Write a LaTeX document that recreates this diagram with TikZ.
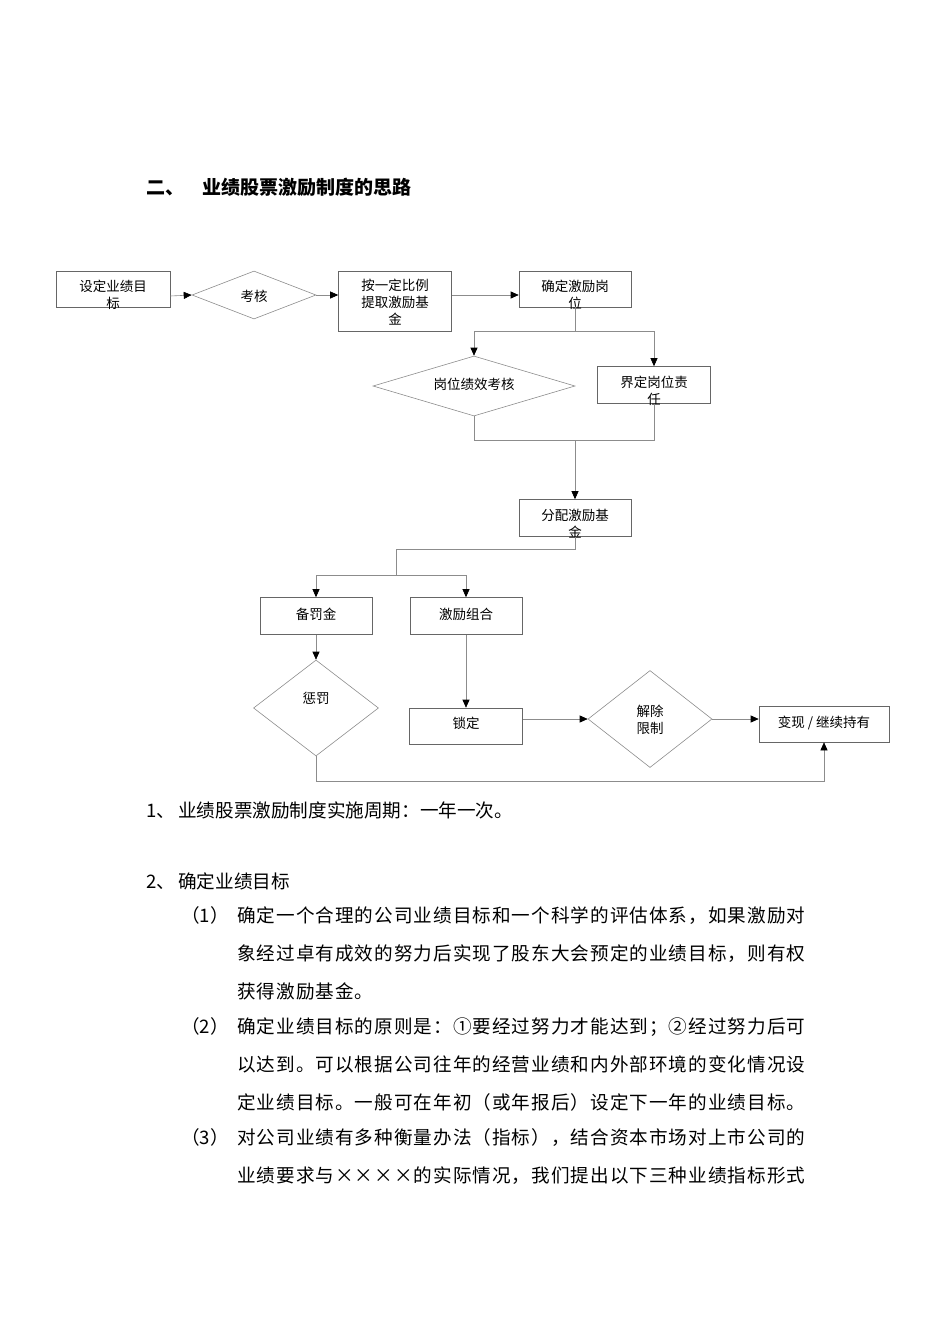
\documentclass[tikz,border=0pt]{standalone}
\usepackage{fontspec}
\setmainfont{Noto Sans CJK SC}
\newfontfamily\spreadfont[LetterSpace=5.5]{Noto Sans CJK SC}
\usetikzlibrary{shapes.geometric,arrows.meta}
\begin{document}
\begin{tikzpicture}[x=1pt,y=-1pt,
  box/.style={draw=black!60,line width=0.6pt,minimum width=#1,inner sep=0pt},
  dia/.style={draw=black!45,line width=0.6pt,diamond,aspect=#1,inner sep=0pt},
  lbl/.style={font=\fontsize{13.5}{17}\selectfont,align=center,inner sep=0pt,anchor=north},
  ln/.style={draw=black!45,line width=0.6pt},
  ar/.style={ln,-{Triangle[length=8pt,width=7pt,fill=black,color=black]}},
  body/.style={font=\fontsize{18.6}{20}\selectfont,anchor=base west,inner sep=0pt},
  jbody/.style={font=\fontsize{18.6}{20}\spreadfont,anchor=base west,inner sep=0pt}]
\useasboundingbox (0,0) rectangle (950,1344);
% boxes
\node[box=114pt,minimum height=36pt] (b1) at (113,289) {};
\node[lbl] at (113,280) {设定业绩目\\标};
\node[dia=2.6,minimum width=124pt,minimum height=48pt] (d1) at (254,295) {};
\node[lbl] at (254,290) {考核};
\node[box=113pt,minimum height=60pt] (b2) at (395,301) {};
\node[lbl] at (395,279) {按一定比例\\提取激励基\\金};
\node[box=112pt,minimum height=36pt] (b3) at (575,289) {};
\node[lbl] at (575,280) {确定激励岗\\位};
\node[dia=3.4,minimum width=202pt,minimum height=60pt] (d2) at (474,386) {};
\node[lbl] at (474,378) {岗位绩效考核};
\node[box=113pt,minimum height=37pt] (b4) at (654,385) {};
\node[lbl] at (654,376) {界定岗位责\\任};
\node[box=112pt,minimum height=37pt] (b5) at (575,518) {};
\node[lbl] at (575,509) {分配激励基\\金};
\node[box=112pt,minimum height=37pt] (b6) at (316,616) {};
\node[lbl] at (316,608) {备罚金};
\node[box=112pt,minimum height=37pt] (b7) at (466,616) {};
\node[lbl] at (466,608) {激励组合};
\node[dia=1.3,minimum width=125pt,minimum height=96pt] (d3) at (316,708) {};
\node[lbl] at (316,692) {惩罚};
\node[box=113pt,minimum height=36pt] (b8) at (466,726) {};
\node[lbl] at (466,717) {锁定};
\node[dia=1.3,minimum width=124pt,minimum height=97pt] (d4) at (650,719) {};
\node[lbl] at (650,705) {解除\\限制};
\node[box=130pt,minimum height=36pt] (b9) at (824,724) {};
\node[lbl] at (824,716) {变现 / 继续持有};
% connectors
\draw[ar] (b1.east|-0,296) -- (d1.west);
\draw[ar] (d1.east) -- (b2.west|-0,295);
\draw[ar] (b2.east|-0,295) -- (b3.west|-0,295);
\coordinate (j1) at (575,331);
\draw[ln] (b3.south) -- (j1);
\draw[ar] (j1) -| (d2.north);
\draw[ar] (j1) -| (b4.north);
\coordinate (j2) at (575,440);
\draw[ln] (d2.south) |- (j2);
\draw[ln] (b4.south) |- (j2);
\draw[ar] (j2) -- (b5.north);
\coordinate (j3) at (396,549);
\coordinate (j4) at (396,575);
\draw[ln] (b5.south) |- (j3) -- (j4);
\draw[ar] (j4) -| (b6.north);
\draw[ar] (j4) -| (b7.north);
\draw[ar] (b6.south) -- (d3.north);
\draw[ar] (b7.south) -- (b8.north);
\draw[ar] (b8.east|-d4.west) -- (d4.west);
\draw[ar] (d4.east) -- (b9.west|-d4.east);
\coordinate (j5) at (316,781);
\draw[ar] (d3.south) -- (j5) -| (b9.south);
% text
\node[body,font=\fontsize{19}{20}\selectfont\bfseries] (h1) at (146,194) {二、};
\node[body,font=\fontsize{19}{20}\selectfont\bfseries] (h2) at (202,194) {业绩股票激励制度的思路};
\node[body] (t1a) at (146,817) {1、};
\node[body] (t1) at (178,817) {业绩股票激励制度实施周期：一年一次。};
\node[body] (t2a) at (146,888) {2、};
\node[body] (t2) at (178,888) {确定业绩目标};
\node[body] (p1) at (181,922) {（1）};
\node[body] (p2) at (181,1033) {（2）};
\node[body] (p3) at (181,1144) {（3）};
\node[jbody] (l1) at (237,922) {确定一个合理的公司业绩目标和一个科学的评估体系，如果激励对};
\node[jbody] (l2) at (237,960) {象经过卓有成效的努力后实现了股东大会预定的业绩目标，则有权};
\node[jbody] (l3) at (237,998) {获得激励基金。};
\node[jbody] (l4) at (237,1033) {确定业绩目标的原则是：①要经过努力才能达到；②经过努力后可};
\node[jbody] (l5) at (237,1071) {以达到。可以根据公司往年的经营业绩和内外部环境的变化情况设};
\node[jbody] (l6) at (237,1109) {定业绩目标。一般可在年初（或年报后）设定下一年的业绩目标。};
\node[jbody] (l7) at (237,1144) {对公司业绩有多种衡量办法（指标），结合资本市场对上市公司的};
\node[jbody] (l8) at (237,1182) {业绩要求与××××的实际情况，我们提出以下三种业绩指标形式};
\end{tikzpicture}
\end{document}
